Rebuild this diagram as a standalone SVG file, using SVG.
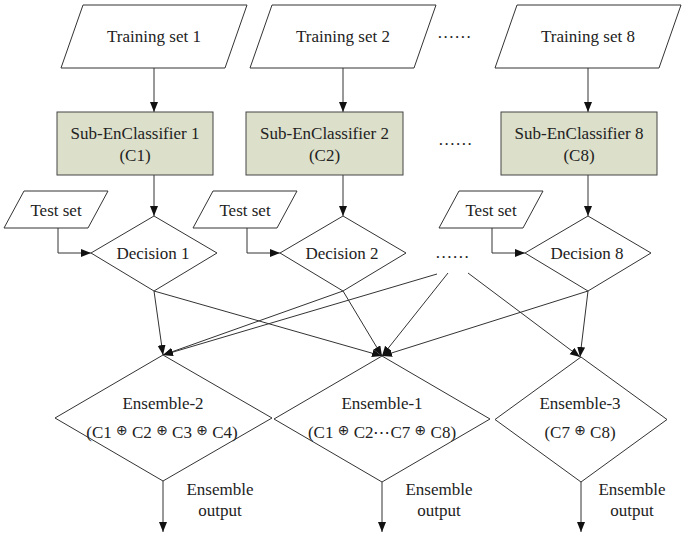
<svg xmlns="http://www.w3.org/2000/svg" width="685" height="539" viewBox="0 0 685 539">
<defs>
<marker id="ah" markerUnits="userSpaceOnUse" markerWidth="11" markerHeight="9" refX="10" refY="4" orient="auto" viewBox="0 0 11 9">
<path d="M0,0 L10,4 L0,8 z" fill="#111"/>
</marker>
<style>
.shape{fill:#fff;stroke:#333;stroke-width:1}
.box{fill:#dcdfca;stroke:#444;stroke-width:1}
.t{font-family:"Liberation Serif","Times New Roman","DejaVu Serif",serif;font-size:17px;fill:#222;text-anchor:middle}
.op{font-family:"DejaVu Sans",sans-serif;font-size:14px}
.c{fill:none;stroke:#333;stroke-width:1}
.ca{fill:none;stroke:#333;stroke-width:1;marker-end:url(#ah)}
</style>
</defs>
<rect width="685" height="539" fill="#fff"/>

<g id="connectors">
<line class="ca" x1="154" y1="68" x2="154" y2="112"/>
<line class="ca" x1="343" y1="68" x2="343" y2="112"/>
<line class="ca" x1="588" y1="68" x2="588" y2="112"/>
<line class="ca" x1="154" y1="175" x2="154" y2="216"/>
<line class="ca" x1="343" y1="175" x2="343" y2="216"/>
<line class="ca" x1="588" y1="175" x2="588" y2="216"/>
<polyline class="ca" points="58,228 58,253 91,253"/>
<polyline class="ca" points="247,228 247,253 280,253"/>
<polyline class="ca" points="492,228 492,253 525,253"/>
<line class="ca" x1="154" y1="291" x2="163" y2="355"/>
<line class="ca" x1="154" y1="291" x2="382" y2="356"/>
<line class="ca" x1="343" y1="291" x2="163" y2="355"/>
<line class="ca" x1="343" y1="291" x2="382" y2="356"/>
<line class="ca" x1="437" y1="274" x2="163" y2="355"/>
<line class="ca" x1="448" y1="273" x2="382" y2="356"/>
<line class="ca" x1="468" y1="273" x2="580" y2="357"/>
<line class="ca" x1="588" y1="291" x2="382" y2="356"/>
<line class="ca" x1="588" y1="291" x2="580" y2="357"/>
<line class="ca" x1="163" y1="481" x2="163" y2="532"/>
<line class="ca" x1="382" y1="482" x2="382" y2="532"/>
<line class="ca" x1="581" y1="482" x2="581" y2="532"/>
</g>

<g id="train1">
<polygon class="shape" points="83,5 247,5 225,68 61,68"/>
<text class="t" x="154" y="42">Training set 1</text>
</g>
<g id="train2">
<polygon class="shape" points="272,5 436,5 414,68 250,68"/>
<text class="t" x="343" y="42">Training set 2</text>
</g>
<g id="train8">
<polygon class="shape" points="517,5 681,5 659,68 495,68"/>
<text class="t" x="588" y="42">Training set 8</text>
</g>
<g id="dots1"><text class="t" x="455" y="38" style="letter-spacing:1.5px">......</text></g>

<g id="sub1">
<rect class="box" x="57" y="112" width="156" height="63"/>
<text class="t" x="135" y="139">Sub-EnClassifier 1</text>
<text class="t" x="135" y="161">(C1)</text>
</g>
<g id="sub2">
<rect class="box" x="246" y="112" width="157" height="63"/>
<text class="t" x="324.5" y="139">Sub-EnClassifier 2</text>
<text class="t" x="324.5" y="161">(C2)</text>
</g>
<g id="sub8">
<rect class="box" x="501" y="112" width="156" height="63"/>
<text class="t" x="579" y="139">Sub-EnClassifier 8</text>
<text class="t" x="579" y="161">(C8)</text>
</g>
<g id="dots2"><text class="t" x="456" y="145" style="letter-spacing:1.5px">......</text></g>

<g id="test1">
<polygon class="shape" points="24,191 108,191 88,228 4,228"/>
<text class="t" x="56" y="216">Test set</text>
</g>
<g id="test2">
<polygon class="shape" points="213,191 297,191 277,228 193,228"/>
<text class="t" x="245" y="216">Test set</text>
</g>
<g id="test8">
<polygon class="shape" points="459,191 543,191 523,228 439,228"/>
<text class="t" x="491" y="216">Test set</text>
</g>

<g id="dec1">
<polygon class="shape" points="154,216 217,253 154,291 91,253"/>
<text class="t" x="153" y="259">Decision 1</text>
</g>
<g id="dec2">
<polygon class="shape" points="343,216 406,253 343,291 280,253"/>
<text class="t" x="342" y="259">Decision 2</text>
</g>
<g id="dec8">
<polygon class="shape" points="588,216 651,253 588,291 525,253"/>
<text class="t" x="587" y="259">Decision 8</text>
</g>
<g id="dots3"><text class="t" x="453" y="258" style="letter-spacing:1.5px">......</text></g>

<g id="ens2">
<polygon class="shape" points="163,355 272,418 163,481 55,418"/>
<text class="t" x="163" y="409">Ensemble-2</text>
<text class="t" x="162" y="438">(C1 <tspan class="op" dy="-3">⊕</tspan><tspan dy="3"> C2 </tspan><tspan class="op" dy="-3">⊕</tspan><tspan dy="3"> C3 </tspan><tspan class="op" dy="-3">⊕</tspan><tspan dy="3"> C4)</tspan></text>
<text class="t" x="220" y="495">Ensemble</text>
<text class="t" x="220" y="516">output</text>
</g>
<g id="ens1">
<polygon class="shape" points="382,356 490,419 382,482 274,419"/>
<text class="t" x="382" y="409">Ensemble-1</text>
<text class="t" x="382" y="438">(C1 <tspan class="op" dy="-3">⊕</tspan><tspan dy="3"> C2⋯C7 </tspan><tspan class="op" dy="-3">⊕</tspan><tspan dy="3"> C8)</tspan></text>
<text class="t" x="439" y="495">Ensemble</text>
<text class="t" x="439" y="516">output</text>
</g>
<g id="ens3">
<polygon class="shape" points="581,357 667,419.5 581,482 495,419.5"/>
<text class="t" x="580" y="409">Ensemble-3</text>
<text class="t" x="580" y="438">(C7 <tspan class="op" dy="-3">⊕</tspan><tspan dy="3"> C8)</tspan></text>
<text class="t" x="632" y="495">Ensemble</text>
<text class="t" x="632" y="516">output</text>
</g>
</svg>
